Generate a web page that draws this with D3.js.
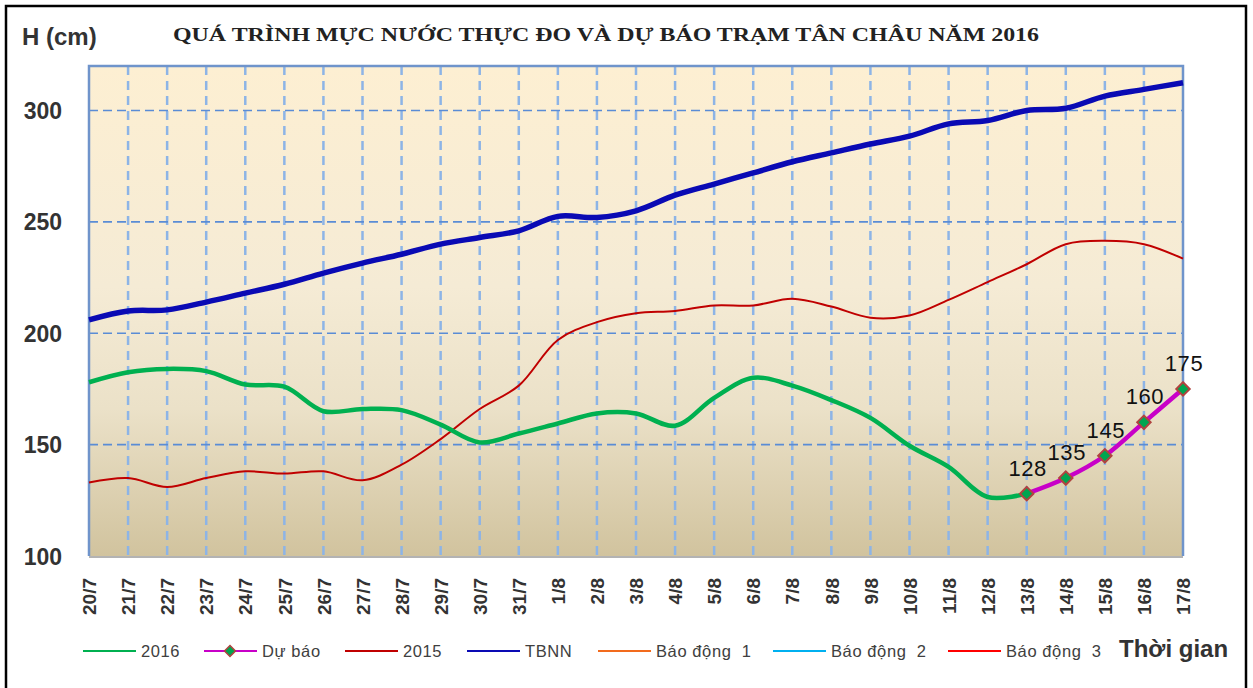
<!DOCTYPE html>
<html lang="vi">
<head>
  <meta charset="UTF-8">
  <title>Quá trình mực nước Tân Châu 2016</title>
  <script src="https://d3js.org/d3.v7.min.js"></script>
  <style>
    html, body { margin: 0; padding: 0; background: #fff; }
    svg { display: block; }
  </style>
</head>
<body>
  <svg width="1253" height="688"></svg>

  <script>
    // ngày quan trắc
    const dates = ["20/7","21/7","22/7","23/7","24/7","25/7","26/7","27/7","28/7","29/7","30/7","31/7",
                   "1/8","2/8","3/8","4/8","5/8","6/8","7/8","8/8","9/8","10/8","11/8","12/8","13/8",
                   "14/8","15/8","16/8","17/8"];

    // mực nước (cm)
    const h2016 = [178,182.5,184,183,177,176,165,166,165.5,159,151,155,159.5,164,164,158.5,171,180,176.5,
                   170,162,149.5,140,126.5,128];
    const h2015 = [133,135,131,135,138,137,138,134,141,152.5,166,176.5,197,205,209,210,212.5,212.5,215.5,
                   212,207,208,215,223,231,240,241.5,240,233.5];
    const tbnn  = [206,210,210.5,214,218,222,227,231.5,235.5,240,243,246,252.5,252,255,262,267,272,277,
                   281,285,288.5,294,295.5,300,301,306.5,309.5,312.5];
    const forecastDates = ["13/8","14/8","15/8","16/8","17/8"];
    const forecast = [128,135,145,160,175];

    const yTicks = [100,150,200,250,300];

    const svg = d3.select("svg");
    const m = {left: 89, right: 1183, top: 66, bottom: 556};

    // khung ngoài
    svg.append("rect").attr("x", 6).attr("y", 6).attr("width", 1240).attr("height", 690)
       .attr("fill", "#fff").attr("stroke", "#000").attr("stroke-width", 2.5);

    const x = d3.scalePoint().domain(dates).range([m.left, m.right]).padding(0);
    const y = d3.scaleLinear().domain([100, 320]).range([m.bottom, m.top]);

    // nền gradient
    const defs = svg.append("defs");
    const grad = defs.append("linearGradient").attr("id", "bg")
                     .attr("x1", 0).attr("y1", 0).attr("x2", 0).attr("y2", 1);
    grad.append("stop").attr("offset", "0%").attr("stop-color", "#fdefd2");
    grad.append("stop").attr("offset", "45%").attr("stop-color", "#f5ebd5");
    grad.append("stop").attr("offset", "70%").attr("stop-color", "#ebe1c8");
    grad.append("stop").attr("offset", "100%").attr("stop-color", "#d1c39e");

    svg.append("rect").attr("x", m.left).attr("y", m.top)
       .attr("width", m.right - m.left).attr("height", m.bottom - m.top)
       .attr("fill", "url(#bg)");

    // lưới dọc
    svg.append("g").selectAll("line").data(dates.slice(1, -1)).join("line")
       .attr("x1", d => x(d)).attr("x2", d => x(d))
       .attr("y1", m.top).attr("y2", m.bottom)
       .attr("stroke", "#8db4e6").attr("stroke-width", 2.5).attr("stroke-dasharray", "9,6");

    // lưới ngang
    svg.append("g").selectAll("line").data(yTicks.slice(1)).join("line")
       .attr("x1", m.left).attr("x2", m.right)
       .attr("y1", d => y(d)).attr("y2", d => y(d))
       .attr("stroke", "#5a8cd5").attr("stroke-width", 1.6).attr("stroke-dasharray", "9,5");

    // viền vùng vẽ
    svg.append("path")
       .attr("d", `M${m.left},${m.bottom}V${m.top}H${m.right}V${m.bottom}`)
       .attr("fill", "none").attr("stroke", "#6f94cb").attr("stroke-width", 2.5);
    svg.append("line").attr("x1", m.left).attr("x2", m.right)
       .attr("y1", m.bottom + 1).attr("y2", m.bottom + 1)
       .attr("stroke", "#b3b3b3").attr("stroke-width", 2);

    // trục Y
    const yAxis = svg.append("g").attr("transform", `translate(${m.left},0)`)
       .call(d3.axisLeft(y).tickValues(yTicks).tickSize(0).tickPadding(27));
    yAxis.select(".domain").remove();
    yAxis.selectAll("text")
       .attr("font-family", "'Liberation Sans', Arial, sans-serif")
       .attr("font-size", 23).attr("font-weight", "bold").attr("fill", "#333")
       .attr("dy", "0.35em");

    // trục X
    const xAxis = svg.append("g").attr("transform", `translate(0,${m.bottom})`)
       .call(d3.axisBottom(x).tickSize(0));
    xAxis.select(".domain").remove();
    xAxis.selectAll("text")
       .attr("font-family", "'Liberation Sans', Arial, sans-serif")
       .attr("font-size", 19).attr("font-weight", "bold").attr("fill", "#333")
       .attr("text-anchor", "end")
       .attr("transform", "translate(0,22) rotate(-90)")
       .attr("x", 0).attr("y", 0).attr("dy", "0.35em");

    const line = d3.line()
       .x(d => d[0]).y(d => d[1])
       .curve(d3.curveCatmullRom.alpha(0.5));

    const pts = (ds, vs) => vs.map((v, i) => [x(ds[i]), y(v)]);

    svg.append("path").attr("d", line(pts(dates, h2015)))
       .attr("fill", "none").attr("stroke", "#c00000").attr("stroke-width", 2);
    svg.append("path").attr("d", line(pts(dates, tbnn)))
       .attr("fill", "none").attr("stroke", "#0a0ab4").attr("stroke-width", 5.5);
    svg.append("path").attr("d", line(pts(dates, h2016)))
       .attr("fill", "none").attr("stroke", "#00b050").attr("stroke-width", 4.5);
    svg.append("path").attr("d", line(pts(forecastDates, forecast)))
       .attr("fill", "none").attr("stroke", "#c800c8").attr("stroke-width", 4.5);

    svg.append("g").selectAll("path").data(forecast).join("path")
       .attr("transform", (d, i) => `translate(${x(forecastDates[i])},${y(d)}) rotate(45)`)
       .attr("d", d3.symbol().type(d3.symbolSquare).size(90))
       .attr("fill", "#00a550").attr("stroke", "#b0433f").attr("stroke-width", 2);

    svg.append("g").selectAll("text").data(forecast).join("text")
       .attr("x", (d, i) => x(forecastDates[i]) + 1)
       .attr("y", d => y(d) - 18)
       .attr("text-anchor", "middle")
       .attr("font-family", "'Liberation Sans', Arial, sans-serif")
       .attr("font-size", 22).attr("fill", "#111").attr("letter-spacing", 0.6)
       .text(d => d);

    // tiêu đề
    svg.append("text").attr("x", 22).attr("y", 45)
       .attr("font-family", "'Liberation Sans', Arial, sans-serif")
       .attr("font-size", 24).attr("font-weight", "bold").attr("fill", "#333")
       .text("H (cm)");
    svg.append("text").attr("x", 173).attr("y", 41)
       .attr("font-family", "'Liberation Serif', 'Times New Roman', serif")
       .attr("font-size", 18).attr("font-weight", "bold").attr("fill", "#222")
       .attr("textLength", 866).attr("lengthAdjust", "spacingAndGlyphs")
       .text("QUÁ TRÌNH MỰC NƯỚC THỰC ĐO VÀ DỰ BÁO TRẠM TÂN CHÂU NĂM 2016");

    // chú giải
    const legendNames = ["2016","Dự báo","2015","TBNN","Báo động  1","Báo động  2","Báo động  3"];
    const legendColors = ["#00b050","#c800c8","#c00000","#0a0ab4","#f26b1d","#00b0f0","#ff0000"];
    const legendX = [83, 204, 345, 467, 598, 773, 948];
    const ly = 651;
    const lg = svg.append("g").selectAll("g").data(legendNames).join("g")
       .attr("transform", (d, i) => `translate(${legendX[i]},${ly})`);
    lg.append("line").attr("x1", 0).attr("x2", 53).attr("y1", 0).attr("y2", 0)
       .attr("stroke", (d, i) => legendColors[i]).attr("stroke-width", 2);
    lg.filter(d => d === "Dự báo").append("path")
       .attr("transform", "translate(26,0) rotate(45)")
       .attr("d", d3.symbol().type(d3.symbolSquare).size(60))
       .attr("fill", "#00a550").attr("stroke", "#b0433f").attr("stroke-width", 1.5);
    lg.append("text").attr("x", 58).attr("y", 0).attr("dy", "0.35em")
       .attr("font-family", "'Liberation Sans', Arial, sans-serif")
       .attr("font-size", 16.5).attr("fill", "#404040").attr("letter-spacing", 0.6)
       .style("white-space", "pre")
       .text(d => d);

    svg.append("text").attr("x", 1119).attr("y", 657)
       .attr("font-family", "'Liberation Sans', Arial, sans-serif")
       .attr("font-size", 24).attr("font-weight", "bold").attr("fill", "#333")
       .text("Thời gian");
  </script>
</body>
</html>
